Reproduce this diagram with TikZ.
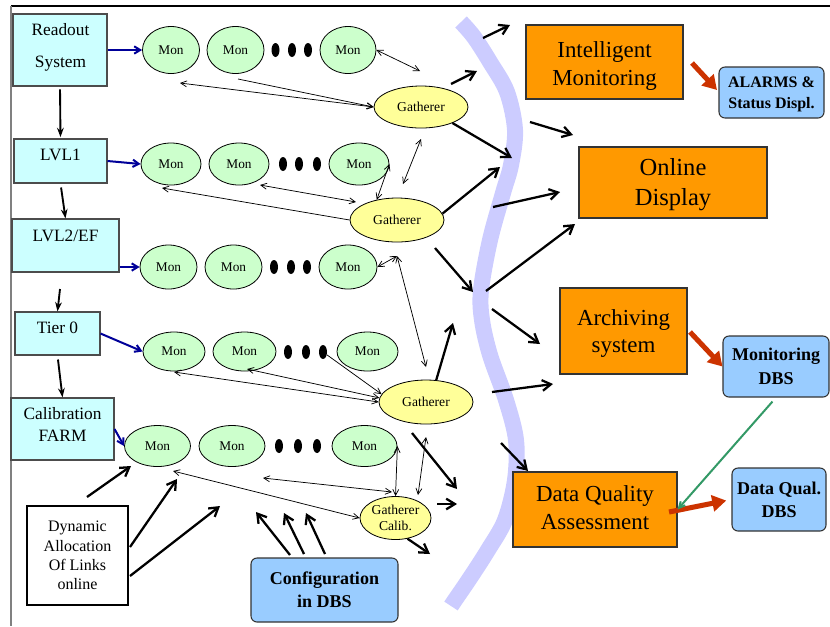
\documentclass[tikz,border=0pt]{standalone}
\usepackage{fontspec}
\setmainfont{Liberation Serif}
\usetikzlibrary{arrows.meta,shapes.geometric}
\definecolor{cyanfill}{HTML}{CCFFFF}
\definecolor{monfill}{HTML}{CCFFCC}
\definecolor{gathfill}{HTML}{FFFF99}
\definecolor{orangefill}{HTML}{FF9900}
\definecolor{bluefill}{HTML}{99CCFF}
\definecolor{bandcol}{HTML}{CCCCFF}
\definecolor{alarmred}{HTML}{CC3300}
\definecolor{dbgreen}{HTML}{339966}
\definecolor{navy}{HTML}{000099}
\begin{document}
\begin{tikzpicture}[x=0.75pt,y=-0.75pt,
  wh/.style 2 args={minimum width=#1*0.75pt,minimum height=#2*0.75pt},
  cyanbox/.style={draw=black!70,fill=cyanfill,line width=0.8pt,inner sep=0pt},
  cyantxt/.style={inner sep=0pt,align=center,font=\fontsize{13}{23.75}\selectfont},
  mon/.style={ellipse,draw=black,fill=monfill,line width=0.6pt,inner sep=0pt,font=\fontsize{10}{12}\selectfont},
  dotn/.style={ellipse,fill=black,inner sep=0pt,minimum width=6pt,minimum height=10.5pt},
  gath/.style={ellipse,draw=black,fill=gathfill,line width=0.6pt,inner sep=0pt,align=center,font=\fontsize{10.2}{12}\selectfont},
  orangebox/.style={draw=black!80,fill=orangefill,line width=0.8pt,inner sep=0pt},
  ortxt/.style={inner sep=0pt,align=center,font=\fontsize{17.2}{21}\selectfont},
  bluebox/.style={draw=black!80,fill=bluefill,line width=0.8pt,rounded corners=4.5pt,inner sep=0pt},
  bltxt/.style={inner sep=0pt,align=center,font=\bfseries\fontsize{13.5}{17.5}\selectfont},
  plainbox/.style={draw=black,fill=white,line width=0.8pt,inner sep=0pt},
  link1/.style={line width=0.55pt,-{Straight Barb[length=4.5pt,width=4.5pt]}},
  link2/.style={line width=0.55pt,{Straight Barb[length=4.5pt,width=4.5pt]}-{Straight Barb[length=4.5pt,width=4.5pt]}},
  fat/.style={line width=1.7pt,-{Straight Barb[length=6.5pt,width=8pt]}},
  feed/.style={navy,line width=1.5pt,-{Straight Barb[length=4.5pt,width=5.5pt]}},
  vstep/.style={line width=1.4pt,-{Stealth[length=7pt,width=5pt]}},
  redarr/.style={alarmred,line width=3.8pt,-{Triangle[length=10.5pt,width=12pt]}},
  greenlink/.style={dbgreen,line width=1.5pt,-{Straight Barb[length=4.5pt,width=4.5pt]}}
]
\useasboundingbox (0,0) rectangle (830,626);

% frame
\draw[black,line width=0.8pt] (11,6) -- (830,6);
\draw[black!50,line width=0.8pt] (11,6) -- (11,626);

% separating band
\draw[bandcol,line width=12pt] plot[smooth,tension=0.55] coordinates {
  (461,22) (474,37) (490,62) (507,92) (515,130) (511,165) (503,193)
  (490,240) (481,290) (482,320) (490,355) (506,400) (516,440) (515,480)
  (505,520) (488,550) (470,578) (455,600) (451,606)};

% data sources
\node[cyanbox,wh={94}{72}] (readout) at (60,50) {};
\node[cyantxt] (readoutt) at (60.5,47.5) {Readout\\System};
\node[cyanbox,wh={93}{44}] (lvl1) at (60.5,161) {};
\node[cyantxt] (lvl1t) at (60.5,155) {LVL1};
\node[cyanbox,wh={107}{53}] (lvl2) at (65.5,245.5) {};
\node[cyantxt] (lvl2t) at (65.5,236) {LVL2/EF};
\node[cyanbox,wh={85}{43}] (tier0) at (57.5,333.5) {};
\node[cyantxt] (tier0t) at (57.5,327.5) {Tier 0};
\node[cyanbox,wh={103}{62}] (calib) at (62.5,429) {};
\node[cyantxt,font=\fontsize{13}{16.5}\selectfont] (calibt) at (62.5,424) {Calibration\\FARM};

% monitoring rows
\node[mon,wh={57}{47}] (m11) at (171,50) {Mon};
\node[mon,wh={57}{47}] (m12) at (235.5,50) {Mon};
\node[mon,wh={56}{47}] (m13) at (348,50) {Mon};
\node[dotn] (d11) at (275.5,50) {};
\node[dotn] (d12) at (292,50) {};
\node[dotn] (d13) at (308,50) {};

\node[mon,wh={60}{42}] (m21) at (171,164) {Mon};
\node[mon,wh={60}{42}] (m22) at (239,164) {Mon};
\node[mon,wh={60}{42}] (m23) at (359,164) {Mon};
\node[dotn] (d21) at (283,164) {};
\node[dotn] (d22) at (299,164) {};
\node[dotn] (d23) at (317,164) {};

\node[mon,wh={57}{44}] (m31) at (168.5,267) {Mon};
\node[mon,wh={57}{44}] (m32) at (233.5,267) {Mon};
\node[mon,wh={58}{44}] (m33) at (348,267) {Mon};
\node[dotn] (d31) at (274,267) {};
\node[dotn] (d32) at (291,267) {};
\node[dotn] (d33) at (307,267) {};

\node[mon,wh={62}{39}] (m41) at (174,351.5) {Mon};
\node[mon,wh={63}{39}] (m42) at (244.5,351.5) {Mon};
\node[mon,wh={61}{39}] (m43) at (367.5,351.5) {Mon};
\node[dotn] (d41) at (288,352) {};
\node[dotn] (d42) at (306,352) {};
\node[dotn] (d43) at (323,352) {};

\node[mon,wh={66}{41}] (m51) at (157.5,446) {Mon};
\node[mon,wh={66}{41}] (m52) at (232,446) {Mon};
\node[mon,wh={65}{41}] (m53) at (364.5,446) {Mon};
\node[dotn] (d51) at (279,446) {};
\node[dotn] (d52) at (298,446) {};
\node[dotn] (d53) at (317,446) {};

% gatherers
\node[gath,wh={94}{42}] (g1) at (421,107) {Gatherer};
\node[gath,wh={94}{44}] (g2) at (397,220) {Gatherer};
\node[gath,wh={94}{44}] (g3) at (426,402) {Gatherer};
\node[gath,wh={71}{43}] (g4) at (395.5,518) {Gatherer\\Calib.};

% other boxes
\node[plainbox,wh={101}{99}] (dyn) at (77.5,555.5) {};
\node[inner sep=0pt,align=center,font=\fontsize{12}{14.5}\selectfont] (dynt) at (77.5,555.5)
  {Dynamic\\Allocation\\Of Links\\online};
\node[bluebox,wh={147}{64}] (conf) at (324.5,590) {};
\node[bltxt] (conft) at (324.5,589.5) {Configuration\\in DBS};

\node[orangebox,wh={157}{74}] (im) at (604.5,62) {};
\node[ortxt] (imt) at (604.5,66) {Intelligent\\Monitoring};
\node[orangebox,wh={188}{71}] (od) at (673,182.5) {};
\node[ortxt,font=\fontsize{18.4}{22.5}\selectfont] (odt) at (673,185) {Online\\Display};
\node[orangebox,wh={127}{86}] (arch) at (623.5,331) {};
\node[ortxt,font=\fontsize{17.2}{20.25}\selectfont] (archt) at (623.5,333.5) {Archiving\\system};
\node[orangebox,wh={164}{75}] (dqa) at (595,509.5) {};
\node[ortxt] (dqat) at (595,508) {Data Quality\\Assessment};

\node[bluebox,wh={105}{51}] (alarms) at (771.5,92.5) {};
\node[bltxt,font=\bfseries\fontsize{12}{15.75}\selectfont] (alarmst) at (771.5,94.5) {ALARMS \&\\Status Displ.};
\node[bluebox,wh={106}{61}] (mdbs) at (776,366.5) {};
\node[bltxt,font=\bfseries\fontsize{13.5}{18}\selectfont] (mdbst) at (776,366) {Monitoring\\DBS};
\node[bluebox,wh={94}{63}] (dqdbs) at (779,499.5) {};
\node[bltxt] (dqdbst) at (779,499.5) {Data Qual.\\DBS};

% chain of data sources
\draw[vstep,shorten <=2.2pt,shorten >=1pt] (readout.south) -- (lvl1.north);
\draw[vstep,shorten <=3pt] (lvl1.south) -- (lvl2.north);
\coordinate (v3) at (60,289);
\draw[vstep] (v3) -- (tier0.north);
\draw[vstep,shorten <=3pt] (tier0.south) -- (calib.north);

% sources feeding the first monitor of each row
\draw[feed] (readout.east) -- (m11.west);
\draw[feed] (lvl1.east) -- (m21.west);
\draw[feed] (lvl2.east |- m31.west) -- (m31.west);
\draw[feed] (tier0.east) -- (m41.west);
\draw[feed] (calib.east) -- (m51.west);

% monitor <-> gatherer links
\coordinate (a1) at (420,71);
\coordinate (a2) at (180,83);
\coordinate (a3) at (238,79);
\draw[link2] (m13.east) -- (a1);
\draw[link2] (a2) -- (g1.west);
\draw[link1] (a3) -- (g1.west);

\coordinate (b1) at (421,139);
\coordinate (b2) at (403,184);
\draw[link2] (b1) -- (b2);
\draw[link2] (m23.east) -- (g2.135);
\coordinate (c1) at (260,185);
\coordinate (c2) at (356,202);
\coordinate (c3) at (162,188);
\draw[link2] (c1) -- (c2);
\draw[link1] (g2.west) -- (c3);

\coordinate (e0) at (397,256);
\coordinate (e1) at (426,367);
\draw[link2] (m33.east) -- (e0);
\draw[link2] (e0) -- (e1);

\coordinate (f1) at (174,372);
\coordinate (f2) at (247,369);
\draw[link2] (f1) -- (g3.west);
\draw[link2] (f2) -- (g3.175);
\draw[link1] (d43) -- (g3.170);

\coordinate (h1) at (426,437);
\coordinate (h2) at (418,495);
\coordinate (i1) at (263,478);
\coordinate (i2) at (392,492);
\coordinate (j1) at (173,471);
\draw[link2] (m53.east) -- (g4.north);
\draw[link2] (h1) -- (h2);
\draw[link2] (i1) -- (i2);
\draw[link2] (j1) -- (g4.west);

% flows across the band
\foreach \n/\ax/\ay/\bx/\by in {
  1/451/84/477/71, 2/483/38/510/25, 4/530/122/573/135, 6/493/207/560/192,
  7/435/248/473/292, 8/486/291/575/224, 9/492/309/540/344, 11/492/392/553/384,
  12/501/443/528/471, 13/412/433/457/489, 14/437/504/457/504,
  16/87/497/131/466, 17/130/547/177/479, 18/130/576/220/506,
  19/290/555/256/512, 20/304/554/284/513, 21/325/554/306/513}{
  \coordinate (t\n a) at (\ax,\ay);
  \coordinate (t\n b) at (\bx,\by);
  \draw[fat] (t\n a) -- (t\n b);
}
\coordinate (t3b) at (512,158);
\coordinate (t5b) at (500,167);
\coordinate (t10b) at (453,323);
\coordinate (t15b) at (430,554);
\draw[fat] (g1.-27) -- (t3b);
\draw[fat] (g2.8) -- (t5b);
\draw[fat] (g3.65) -- (t10b);
\draw[fat] (g4.-60) -- (t15b);

% results to databases and displays
\coordinate (r1a) at (692,63);
\coordinate (r1b) at (717,90);
\draw[redarr] (r1a) -- (r1b);
\coordinate (r2a) at (690,332);
\draw[redarr] (r2a) -- (mdbs.west);
\coordinate (r3a) at (669,512);
\draw[redarr,shorten >=4pt] (r3a) -- (dqdbs.west);
\draw[greenlink,shorten <=4pt] (mdbs.south) -- (dqa.east);
\end{tikzpicture}
\end{document}
